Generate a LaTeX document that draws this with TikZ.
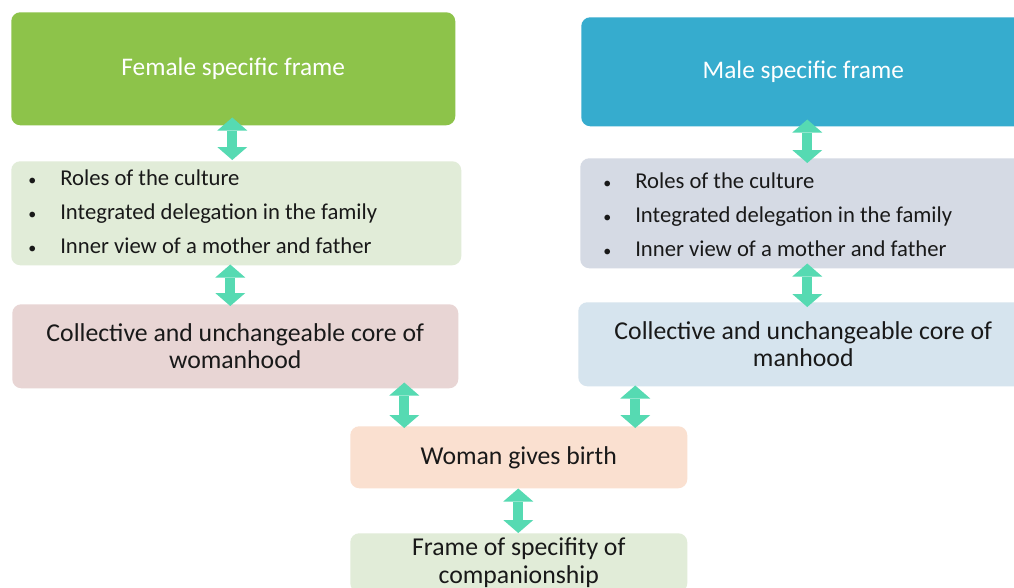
\documentclass[tikz,border=0pt]{standalone}
\usepackage{fontspec}
\setmainfont{Carlito}
\usetikzlibrary{arrows.meta}
\newlength\px \setlength\px{0.75pt}
\definecolor{femgreen}{RGB}{141,195,74}
\definecolor{maleblue}{RGB}{54,172,206}
\definecolor{arrowc}{RGB}{86,218,178}
\definecolor{palegreen}{RGB}{225,236,216}
\definecolor{palegrey}{RGB}{213,218,228}
\definecolor{palerose}{RGB}{232,213,212}
\definecolor{paleblue}{RGB}{214,228,238}
\definecolor{palepeach}{RGB}{250,224,208}
\definecolor{inkc}{RGB}{25,25,25}
% a small list bullet followed by the item text
\newcommand\listdot{\makebox[32\px][l]{\raisebox{0.5pt}{\fontsize{12pt}{12pt}\selectfont\textbullet}}}
\begin{document}
\begin{tikzpicture}[x=\px,y=-\px,
  box/.style={rectangle, rounded corners=9\px, inner sep=0pt, anchor=north west,
    align=center, text=inkc, font=\fontsize{19.3pt}{20.5pt}\selectfont},
  titlebox/.style={box, text=white, font=\fontsize{19pt}{21pt}\selectfont},
  bullets/.style={anchor=west, align=left, inner sep=0pt, text=inkc,
    font=\fontsize{17pt}{25.5pt}\selectfont},
  arr/.style={draw=arrowc, fill=arrowc, line width=7.5pt,
    {Triangle[width=22.5pt,length=9.75pt,line width=0pt]}-{Triangle[width=22.5pt,length=9.75pt,line width=0pt]}}
]
\useasboundingbox (0,0) rectangle (1014,587);
\fill[white] (0,0) rectangle (1014,587);

% frames at the top
\node[titlebox, fill=femgreen, minimum width=444\px, minimum height=113\px] (ff) at (11,12) {Female specific frame};
\node[titlebox, fill=maleblue, minimum width=444\px, minimum height=109\px] (mf) at (581,17) {Male specific frame};

% bullet boxes
\node[box, fill=palegreen, minimum width=450\px, minimum height=104\px] (lb) at (11,161) {};
\node[box, fill=palegrey, minimum width=445\px, minimum height=110\px] (rb) at (580,158) {};
\node[bullets] (lbt) at (28,212) {\listdot Roles of the culture\\
  \listdot Integrated delegation in the family\\
  \listdot Inner view of a mother and father};
\node[bullets] (rbt) at (603,215) {\listdot Roles of the culture\\
  \listdot Integrated delegation in the family\\
  \listdot Inner view of a mother and father};

% cores
\node[box, fill=palerose, minimum width=446\px, minimum height=84\px] (lc) at (12,304) {Collective and unchangeable core of\\womanhood};
\node[box, fill=paleblue, minimum width=450\px, minimum height=84\px] (rc) at (578,302) {Collective and unchangeable core of\\manhood};

% bottom
\node[box, fill=palepeach, minimum width=337\px, minimum height=62\px] (wb) at (350,426) {Woman gives birth};
\node[box, fill=palegreen, minimum width=337\px, minimum height=59\px] (fr) at (350,533) {Frame of specifity of\\companionship};

% double arrows
\draw[arr] ([xshift=-1\px,yshift=8\px]ff.south) -- ([xshift=-4\px,yshift=1\px]lb.north);
\draw[arr] ([xshift=-6\px,yshift=1\px]lb.south) -- ([xshift=-5\px,yshift=-2\px]lc.north);
\draw[arr] ([xshift=4\px,yshift=7\px]mf.south) -- ([xshift=4.5\px,yshift=-5\px]rb.north);
\draw[arr] ([xshift=4.5\px,yshift=5\px]rb.south) -- ([xshift=4\px,yshift=-5\px]rc.north);
\draw[arr] ([xshift=169\px,yshift=6\px]lc.south) -- ([xshift=-114.5\px,yshift=-2\px]wb.north);
\draw[arr] ([xshift=-168\px,yshift=1\px]rc.south) -- ([xshift=116.5\px,yshift=-2\px]wb.north);
\draw[arr] ([xshift=-0.5\px]wb.south) -- ([xshift=-0.5\px]fr.north);
\end{tikzpicture}
\end{document}
